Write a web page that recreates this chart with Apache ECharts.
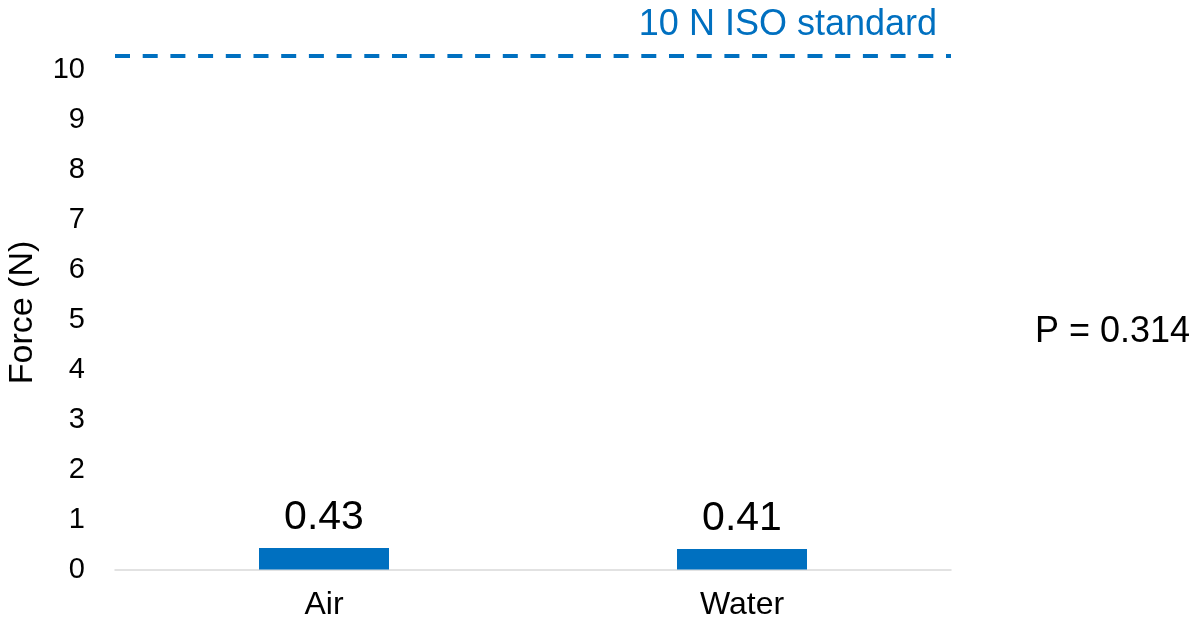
<!DOCTYPE html>
<html>
<head>
<meta charset="utf-8">
<script src="https://cdn.jsdelivr.net/npm/echarts@6/dist/echarts.min.js"></script>
<style>
  html, body { margin: 0; padding: 0; background: #fff; }
  #main { width: 1201px; height: 622px; }
</style>
</head>
<body>
<div id="main"></div>
<script>
// data
var categories = ['Air', 'Water'];
var forceValues = [0.43, 0.41];
var isoLevel = 10.28;          // dashed line sits just above the 10 tick
var isoText = '10 N ISO standard';
var pText = 'P = 0.314';

var FONT = 'Liberation Sans, Arial, sans-serif';
var chart = echarts.init(document.getElementById('main'));

var option = {
    animation: false,
    grid: { left: 115, right: 250, top: 55.5, bottom: 52.5, outerBoundsMode: 'none', containLabel: false },
    xAxis: {
        type: 'category',
        data: categories,
        axisLine: { lineStyle: { color: '#D9D9D9', width: 1.5 } },
        axisTick: { show: false },
        axisLabel: { color: '#000', fontSize: 32, fontFamily: FONT, margin: 20 }
    },
    yAxis: {
        type: 'value',
        min: 0,
        max: isoLevel,
        interval: 1,
        name: 'Force (N)',
        nameLocation: 'middle',
        nameGap: 75,
        nameTextStyle: { color: '#000', fontSize: 34, fontFamily: FONT },
        axisLine: { show: false },
        axisTick: { show: false },
        splitLine: { show: false },
        axisLabel: { color: '#000', fontSize: 29, fontFamily: FONT, margin: 30, showMaxLabel: false }
    },
    series: [{
        type: 'bar',
        data: forceValues,
        barWidth: 130,
        itemStyle: { color: '#0070C0' },
        label: {
            show: true,
            position: 'top',
            distance: 10,
            color: '#000',
            fontSize: 41,
            fontFamily: FONT
        },
        markLine: {
            silent: true,
            symbol: ['none', 'none'],
            lineStyle: { color: '#0070C0', width: 4, type: [15, 12.7] },
            label: {
                show: true,
                position: 'insideEndTop',
                formatter: isoText,
                color: '#0070C0',
                fontSize: 36,
                fontFamily: FONT,
                padding: [0, 14, 0, 0],
                distance: [0, 12]
            },
            data: [{ yAxis: isoLevel }]
        }
    }],
    graphic: [{
        type: 'text',
        left: 1035,
        top: 314,
        style: { text: pText, fill: '#000', fontSize: 36, fontFamily: FONT }
    }]
};

chart.setOption(option);
</script>
</body>
</html>
